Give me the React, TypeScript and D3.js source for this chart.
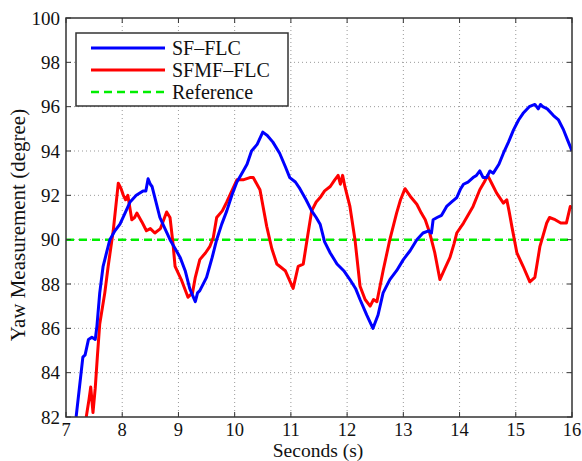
import React from "react";
import * as d3 from "d3";

const sfTime = [7.18, 7.3, 7.34, 7.4, 7.46, 7.52, 7.55, 7.6, 7.66, 7.72, 7.78, 7.87, 7.96, 8.05, 8.14, 8.25, 8.37, 8.42, 8.46, 8.5, 8.53, 8.6, 8.67, 8.76, 8.85, 8.94, 9.03, 9.12, 9.2, 9.25, 9.3, 9.34, 9.38, 9.5, 9.6, 9.68, 9.77, 9.86, 9.95, 10.04, 10.13, 10.22, 10.3, 10.4, 10.5, 10.58, 10.68, 10.8, 10.9, 10.98, 11.08, 11.16, 11.27, 11.37, 11.45, 11.52, 11.6, 11.7, 11.82, 11.94, 12.05, 12.15, 12.23, 12.35, 12.46, 12.55, 12.64, 12.76, 12.88, 13.0, 13.12, 13.24, 13.35, 13.45, 13.5, 13.53, 13.6, 13.68, 13.77, 13.86, 13.95, 14.02, 14.07, 14.15, 14.24, 14.3, 14.36, 14.42, 14.48, 14.54, 14.6, 14.7, 14.78, 14.87, 14.96, 15.05, 15.13, 15.24, 15.34, 15.4, 15.44, 15.48, 15.56, 15.67, 15.76, 15.85, 15.92, 16.0];
const sfValue = [82.0, 84.7, 84.8, 85.5, 85.6, 85.5, 86.1, 87.6, 88.8, 89.4, 90.0, 90.4, 90.7, 91.2, 91.7, 92.0, 92.2, 92.2, 92.75, 92.5, 92.4, 91.7, 91.0, 90.5, 90.0, 89.6, 89.2, 88.6, 87.8, 87.5, 87.2, 87.6, 87.7, 88.3, 89.2, 90.0, 90.7, 91.3, 92.0, 92.6, 93.0, 93.4, 94.0, 94.3, 94.85, 94.7, 94.4, 93.9, 93.3, 92.8, 92.6, 92.3, 91.8, 91.3, 91.0, 90.7, 89.9, 89.4, 88.9, 88.6, 88.2, 87.8, 87.3, 86.6, 86.0, 86.6, 87.6, 88.2, 88.6, 89.1, 89.5, 90.0, 90.3, 90.4, 90.3, 90.9, 91.0, 91.1, 91.5, 91.7, 91.9, 92.3, 92.5, 92.6, 92.8, 92.9, 93.1, 92.8, 92.8, 93.1, 93.0, 93.4, 93.9, 94.4, 94.95, 95.4, 95.7, 96.0, 96.1, 95.9, 96.1, 96.0, 95.9, 95.6, 95.4, 94.95, 94.5, 94.0];

const sfmfTime = [7.36, 7.41, 7.44, 7.48, 7.52, 7.56, 7.6, 7.69, 7.75, 7.84, 7.93, 7.98, 8.02, 8.06, 8.1, 8.17, 8.22, 8.26, 8.35, 8.43, 8.5, 8.58, 8.68, 8.79, 8.85, 8.9, 8.94, 9.05, 9.17, 9.25, 9.3, 9.38, 9.48, 9.56, 9.62, 9.68, 9.78, 9.86, 9.95, 10.04, 10.15, 10.27, 10.33, 10.45, 10.57, 10.66, 10.75, 10.9, 11.04, 11.13, 11.22, 11.3, 11.37, 11.45, 11.52, 11.6, 11.7, 11.78, 11.84, 11.88, 11.92, 11.96, 12.05, 12.14, 12.23, 12.32, 12.41, 12.47, 12.53, 12.64, 12.76, 12.88, 12.95, 13.03, 13.14, 13.24, 13.32, 13.39, 13.47, 13.56, 13.65, 13.74, 13.83, 13.9, 13.95, 14.07, 14.15, 14.24, 14.36, 14.44, 14.5, 14.58, 14.66, 14.78, 14.84, 14.88, 14.93, 15.02, 15.13, 15.25, 15.34, 15.43, 15.55, 15.6, 15.7, 15.8, 15.9, 15.97, 16.0];
const sfmfValue = [82.0, 82.8, 83.35, 82.2, 83.3, 84.8, 86.2, 87.6, 88.8, 90.4, 92.55, 92.3, 92.0, 91.8, 92.0, 90.9, 91.0, 91.2, 90.8, 90.4, 90.5, 90.3, 90.5, 91.25, 91.0, 89.9, 88.8, 88.2, 87.4, 87.6, 88.3, 89.1, 89.4, 89.7, 90.1, 91.0, 91.3, 91.7, 92.2, 92.7, 92.7, 92.8, 92.8, 92.25, 90.6, 89.6, 88.9, 88.6, 87.8, 88.8, 88.9, 90.2, 91.3, 91.7, 91.9, 92.2, 92.4, 92.7, 92.9, 92.5, 92.9, 92.4, 91.5, 90.0, 87.9, 87.3, 87.0, 87.3, 87.2, 88.6, 90.0, 91.2, 91.8, 92.3, 91.9, 91.6, 91.2, 90.9, 90.3, 89.4, 88.2, 88.7, 89.2, 89.8, 90.3, 90.75, 91.1, 91.5, 92.25, 92.6, 92.9, 92.5, 92.1, 91.65, 91.8, 91.3, 90.6, 89.4, 88.8, 88.1, 88.3, 89.7, 90.75, 91.0, 90.9, 90.75, 90.75, 91.5, 91.4];

const referenceValue = 90;
const xTicks = [7, 8, 9, 10, 11, 12, 13, 14, 15, 16];
const yTicks = [82, 84, 86, 88, 90, 92, 94, 96, 98, 100];
const legendLabels = ["SF\u2013FLC", "SFMF\u2013FLC", "Reference"];

export default function App() {
  const W = 582, H = 461;
  const left = 66, right = 572, top = 18, bottom = 417;
  const x = d3.scaleLinear().domain([7, 16]).range([left, right]);
  const y = d3.scaleLinear().domain([82, 100]).range([bottom, top]);
  const line = d3.line<[number, number]>().x(d => x(d[0])).y(d => y(d[1]));
  const sf = line(sfTime.map((t, i) => [t, sfValue[i]]) as [number, number][]) || "";
  const sfmf = line(sfmfTime.map((t, i) => [t, sfmfValue[i]]) as [number, number][]) || "";
  const font = "'Liberation Serif', 'Times New Roman', serif";
  const colors = ["#0000ff", "#ff0000", "#00ee00"];
  return (
    <svg width={W} height={H} style={{ position: "absolute", left: 0, top: 0, background: "#fff" }} fontFamily={font}>
      <defs>
        <clipPath id="plot">
          <rect x={left} y={top} width={right - left} height={bottom - top} />
        </clipPath>
      </defs>
      {xTicks.slice(1, -1).map(t => (
        <line key={"gx" + t} x1={x(t)} x2={x(t)} y1={top} y2={bottom} stroke="#999" strokeWidth={1} strokeDasharray="1,3" />
      ))}
      {yTicks.slice(1, -1).map(t => (
        <line key={"gy" + t} x1={left} x2={right} y1={y(t)} y2={y(t)} stroke="#999" strokeWidth={1} strokeDasharray="1,3" />
      ))}
      <g clipPath="url(#plot)">
        <line x1={left} x2={right} y1={y(referenceValue)} y2={y(referenceValue)} stroke={colors[2]} strokeWidth={2.5} strokeDasharray="8,5" />
        <path d={sfmf} fill="none" stroke={colors[1]} strokeWidth={3} strokeLinejoin="round" />
        <path d={sf} fill="none" stroke={colors[0]} strokeWidth={3} strokeLinejoin="round" />
      </g>
      <rect x={left} y={top} width={right - left} height={bottom - top} fill="none" stroke="#333" strokeWidth={1.5} />
      {xTicks.map(t => (
        <g key={"xt" + t}>
          <line x1={x(t)} x2={x(t)} y1={bottom} y2={bottom - 5} stroke="#333" />
          <line x1={x(t)} x2={x(t)} y1={top} y2={top + 5} stroke="#333" />
          <text x={x(t)} y={bottom + 19} textAnchor="middle" fontSize={18.5} fill="#111">{t}</text>
        </g>
      ))}
      {yTicks.map(t => (
        <g key={"yt" + t}>
          <line x1={left} x2={left + 5} y1={y(t)} y2={y(t)} stroke="#333" />
          <line x1={right} x2={right - 5} y1={y(t)} y2={y(t)} stroke="#333" />
          <text x={left - 6} y={y(t) + 6.5} textAnchor="end" fontSize={19} fill="#111">{t}</text>
        </g>
      ))}
      <text x={318} y={457} textAnchor="middle" fontSize={19.5} fill="#111">Seconds (s)</text>
      <text transform={`translate(25, 225) rotate(-90)`} textAnchor="middle" fontSize={21} fill="#111">Yaw Measurement (degree)</text>
      <rect x={76} y={33} width={212} height={73} fill="#fff" stroke="#333" strokeWidth={1.5} />
      {legendLabels.map((lab, i) => (
        <g key={lab}>
          <line x1={91} x2={165} y1={48 + i * 22} y2={48 + i * 22} stroke={colors[i]} strokeWidth={i < 2 ? 3 : 2.5} strokeDasharray={i === 2 ? "8,5" : undefined} />
          <text x={172} y={48 + i * 22 + 7} fontSize={20} fill="#111">{lab}</text>
        </g>
      ))}
    </svg>
  );
}
